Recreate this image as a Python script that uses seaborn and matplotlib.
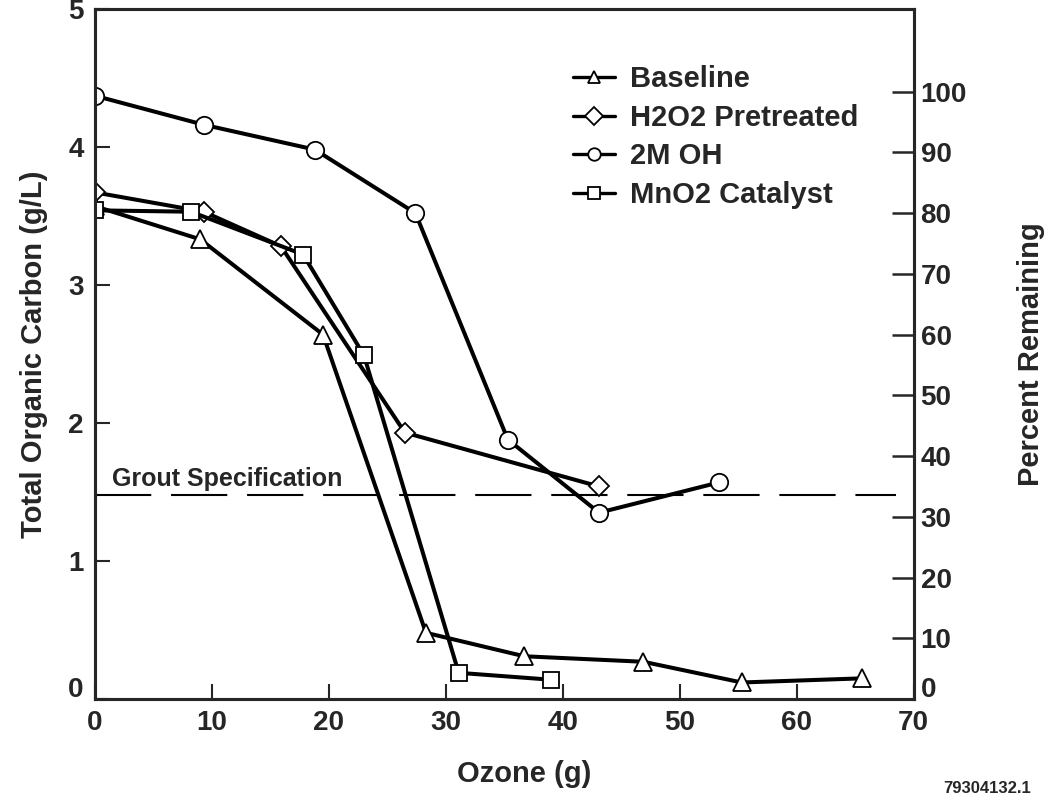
import numpy as np
import pandas as pd
import matplotlib
matplotlib.use('Agg')
import matplotlib.pyplot as plt
import matplotlib.transforms as mtransforms
import seaborn as sns

# values (ozone in g, TOC in g/L)
baseline_x = [0, 9.0, 19.5, 28.3, 36.7, 46.9, 55.3, 65.6]
baseline_y = [3.57, 3.33, 2.64, 0.48, 0.31, 0.27, 0.12, 0.15]

h2o2_x = [0, 9.3, 15.9, 26.5, 43.1]
h2o2_y = [3.67, 3.53, 3.28, 1.93, 1.54]

oh_x = [0, 9.3, 18.8, 27.4, 35.3, 43.1, 53.4]
oh_y = [4.37, 4.16, 3.98, 3.52, 1.88, 1.35, 1.57]

mno2_x = [0, 8.2, 17.8, 23.0, 31.1, 39.0]
mno2_y = [3.54, 3.53, 3.22, 2.49, 0.19, 0.14]

series_names = ['Baseline', 'H2O2 Pretreated', '2M OH', 'MnO2 Catalyst']
grout_spec = 1.48
x_ticks = [0, 10, 20, 30, 40, 50, 60, 70]
y_ticks = [0, 1, 2, 3, 4, 5]
pct_ticks = [0, 10, 20, 30, 40, 50, 60, 70, 80, 90, 100]
full_toc = 4.4  # g/L that corresponds to 100 percent

sns.set_style('ticks')
plt.rcParams['font.family'] = ['Liberation Sans', 'DejaVu Sans']
plt.rcParams['font.weight'] = 'bold'

fig = plt.figure(figsize=(10.55, 7.98), dpi=100)
ax = fig.add_axes([0.090, 0.124, 0.776, 0.865])

styles = [
    (baseline_x, baseline_y, '^', 12.5),
    (h2o2_x, h2o2_y, 'D', 10.5),
    (oh_x, oh_y, 'o', 12.5),
    (mno2_x, mno2_y, 's', 11.5),
]
for (xs, ys, mk, ms), name in zip(styles, series_names):
    sns.lineplot(x=xs, y=ys, ax=ax, color='black', linewidth=2.9,
                 marker=mk, markersize=ms, markerfacecolor='white',
                 markeredgecolor='black', markeredgewidth=1.3,
                 label=name, zorder=3)

# grout specification limit
ax.plot([0, 68.5], [grout_spec, grout_spec], color='black', linewidth=1.5,
        dashes=(27, 9.5), zorder=2)
ax.text(1.5, grout_spec + 0.03, 'Grout Specification', fontsize=18,
        fontweight='bold', ha='left', va='bottom')

ax.set_xlim(0, 70)
ax.set_ylim(0, 5)
ax.set_xticks(x_ticks)
ax.set_yticks(y_ticks)
ax.tick_params(axis='both', direction='in', length=11, width=1.5,
               labelsize=20, pad=8)
ax.set_xlabel('Ozone (g)', fontsize=21, fontweight='bold')
ax.xaxis.set_label_coords(0.524, -0.088)
ax.set_ylabel('Total Organic Carbon (g/L)', fontsize=21, fontweight='bold',
              labelpad=15)
for sp in ax.spines.values():
    sp.set_linewidth(2.2)
    sp.set_visible(True)

ax2 = ax.twinx()
ax2.set_ylim(0, 5 / full_toc * 100)
ax2.set_yticks(pct_ticks)
ax2.tick_params(axis='y', direction='in', length=16, width=1.8,
                labelsize=20, pad=5)
ax2.set_ylabel('Percent Remaining', fontsize=21, fontweight='bold',
               labelpad=36)
for sp in ax2.spines.values():
    sp.set_linewidth(2.2)

# the zeros at the lower corners sit a little above their ticks
lift = mtransforms.ScaledTranslation(0, 9 / 72, fig.dpi_scale_trans)
for lab in (ax.get_yticklabels()[0], ax2.get_yticklabels()[0]):
    lab.set_transform(lab.get_transform() + lift)

leg = ax.legend(loc='upper left', bbox_to_anchor=(0.584, 0.918), frameon=False,
                fontsize=21, handlelength=1.45, handletextpad=0.5,
                labelspacing=0.36, borderaxespad=0, borderpad=0)
for line in leg.get_lines():
    line.set_linewidth(2.4)
    line.set_markersize(9)

fig.text(0.977, 0.002, '79304132.1', fontsize=12, fontweight='bold',
         ha='right', va='bottom')

fig.savefig('out.png', dpi=100)
